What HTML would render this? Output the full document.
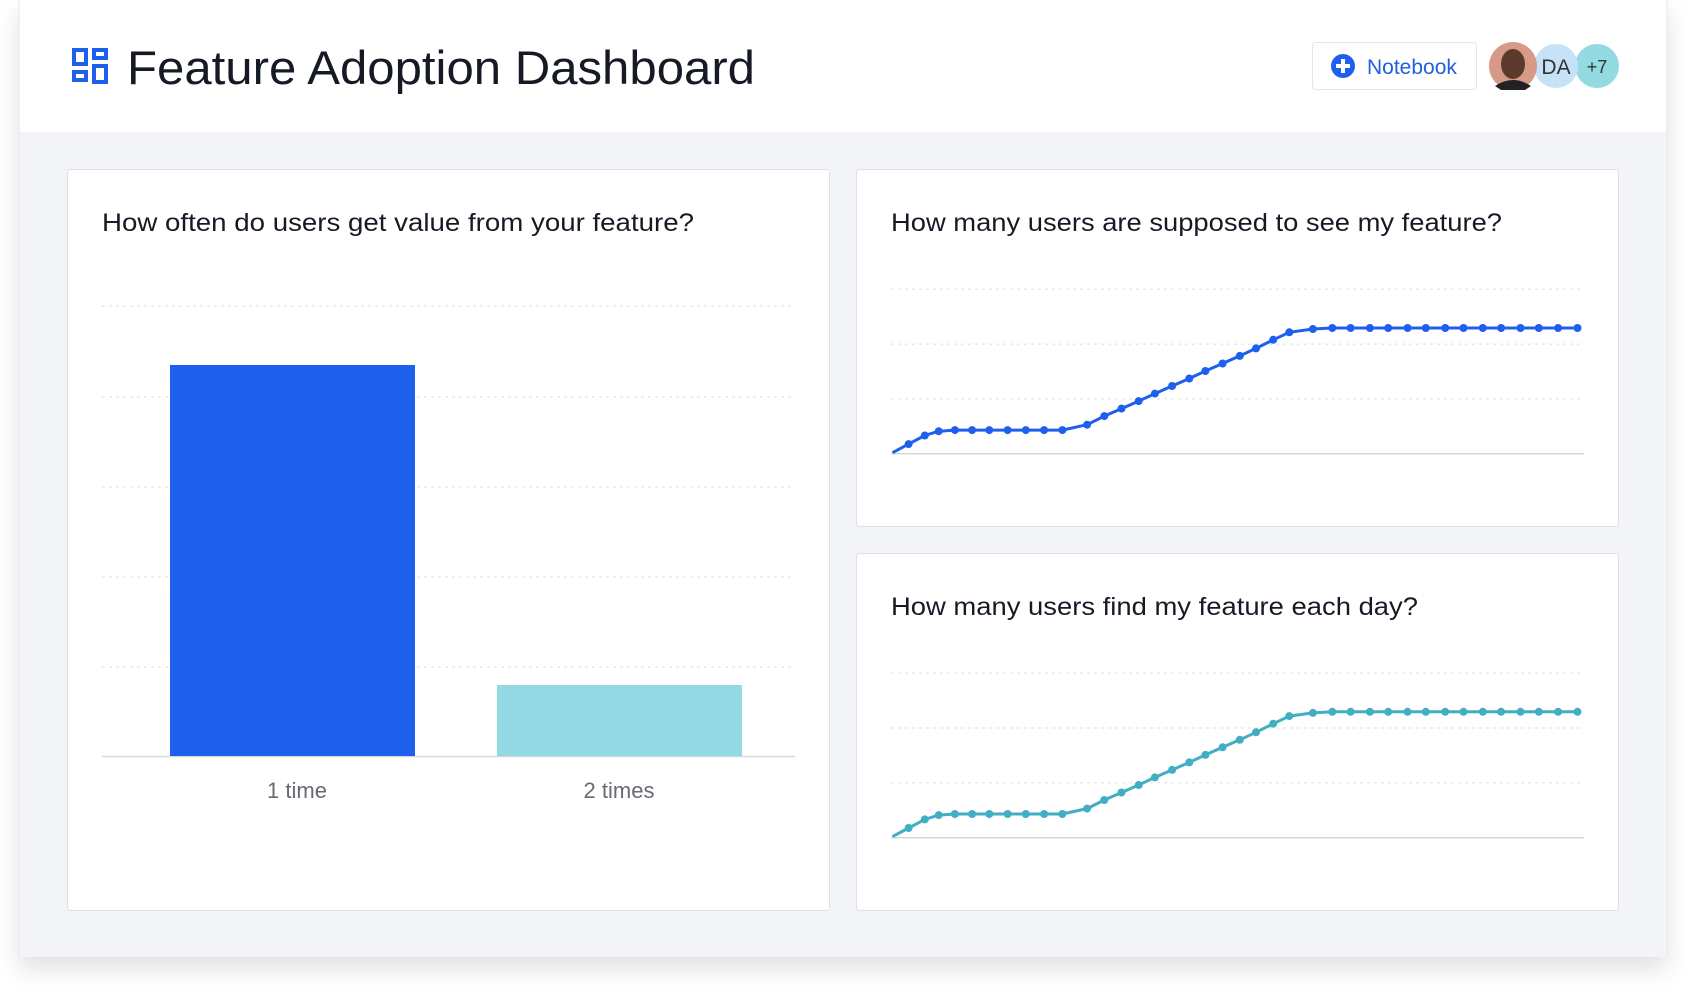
<!DOCTYPE html>
<html><head><meta charset="utf-8"><style>
html,body{margin:0;padding:0;background:#fff;width:1686px;height:996px;overflow:hidden}
svg{display:block}
text{font-family:"Liberation Sans",sans-serif}
</style></head><body>
<svg id="s" width="1686" height="996" viewBox="0 0 1686 996" xmlns="http://www.w3.org/2000/svg">
<defs>
<filter id="sh" x="-5%" y="-5%" width="110%" height="115%"><feDropShadow dx="0" dy="12" stdDeviation="12" flood-color="#000" flood-opacity="0.12"/></filter>
</defs>
<rect x="19" y="0" width="1648" height="957" fill="#f3f4f8" filter="url(#sh)"/>
<rect x="19" y="0" width="1648" height="132" fill="#fff"/>
<line x1="19" y1="0" x2="19" y2="957" stroke="#e6e7ea"/>
<line x1="1667" y1="0" x2="1667" y2="957" stroke="#e6e7ea"/>
<!-- icon -->
<g fill="none" stroke="#1f5fee" stroke-width="4">
<rect x="74" y="50" width="12" height="14"/><rect x="94" y="50" width="12" height="8"/>
<rect x="74" y="72" width="12" height="8"/><rect x="94" y="66" width="12" height="16"/>
</g>
<text x="127" y="84" font-size="47" fill="#151a24" textLength="628" lengthAdjust="spacingAndGlyphs">Feature Adoption Dashboard</text>
<!-- notebook -->
<rect x="1312.5" y="42.5" width="164" height="47" rx="3" fill="#fff" stroke="#e4e6ea"/>
<circle cx="1343" cy="66" r="12" fill="#1f5fee"/>
<rect x="1336" y="64" width="14" height="4" fill="#fff"/><rect x="1341" y="59" width="4" height="14" fill="#fff"/>
<text x="1367" y="74" font-size="21" fill="#1f5fe0">Notebook</text>
<circle cx="1597" cy="66" r="22" fill="#92dbe3"/>
<text x="1597" y="73" font-size="18" fill="#333" text-anchor="middle">+7</text>
<circle cx="1556" cy="66" r="22" fill="#c5e2f7"/>
<text x="1556" y="74" font-size="21" fill="#333" text-anchor="middle">DA</text>
<circle cx="1513" cy="66" r="24" fill="#d79a88"/>
<ellipse cx="1513" cy="64" rx="12" ry="15" fill="#5a3a2c"/>
<path d="M1495 86 Q1513 74 1531 86 L1525 90 L1501 90Z" fill="#222"/>
<!-- cards -->
<rect x="67.5" y="169.5" width="762" height="741" rx="3" fill="#fff" stroke="#dde0e6"/>
<rect x="856.5" y="169.5" width="762" height="357" rx="3" fill="#fff" stroke="#dde0e6"/>
<rect x="856.5" y="553.5" width="762" height="357" rx="3" fill="#fff" stroke="#dde0e6"/>
<text x="102" y="231" font-size="25" fill="#151a24" textLength="592" lengthAdjust="spacingAndGlyphs">How often do users get value from your feature?</text>
<text x="891" y="231" font-size="25" fill="#151a24" textLength="611" lengthAdjust="spacingAndGlyphs">How many users are supposed to see my feature?</text>
<text x="891" y="615" font-size="25" fill="#151a24" textLength="527" lengthAdjust="spacingAndGlyphs">How many users find my feature each day?</text>
<g stroke="#dadde3" stroke-dasharray="3 4" stroke-width="1">
<line x1="102" y1="306" x2="795" y2="306"/><line x1="102" y1="397" x2="795" y2="397"/>
<line x1="102" y1="487" x2="795" y2="487"/><line x1="102" y1="577" x2="795" y2="577"/>
<line x1="102" y1="667" x2="795" y2="667"/>
</g>
<line x1="102" y1="756.5" x2="795" y2="756.5" stroke="#d4d7dc" stroke-width="1.5"/>
<rect x="170" y="365" width="245" height="391" fill="#1f5fee"/>
<rect x="497" y="685" width="245" height="71" fill="#92d9e3"/>
<text x="297" y="798" font-size="22" fill="#666b73" text-anchor="middle">1 time</text>
<text x="619" y="798" font-size="22" fill="#666b73" text-anchor="middle">2 times</text>
<g id="charts"></g>
</svg>
<script>
var xs=[830,845,860,873,888,904,920,937,954,971,988,1011,1027,1043,1059,1074,1090,1106,1121,1137,1153,1168,1184,1199,1221,1239,1256,1274,1291,1309,1326,1344,1361,1379,1396,1414,1431,1449,1467];
var ys=[421,413,405,401,400,400,400,400,400,400,400,395,387,380,373,366,359,352,345,338,331,324,316,309,306];
while(ys.length<xs.length)ys.push(305);
var k=1.0753,g=document.getElementById('charts'),h='';
[[0,'#1f5fee'],[357,'#41aec4']].forEach(function(c){
 var off=c[0];
 [269,320,371].forEach(function(y){var yy=((y+off)*k).toFixed(1);h+='<line x1="891" y1="'+yy+'" x2="1584" y2="'+yy+'" stroke="#dadde3" stroke-dasharray="3 4"/>';});
 var yb=((422+off)*k).toFixed(1);
 h+='<line x1="891" y1="'+yb+'" x2="1584" y2="'+yb+'" stroke="#d4d7dc" stroke-width="1.5"/>';
 var p=xs.map(function(x,i){return (x*k).toFixed(1)+','+((ys[i]+off)*k).toFixed(1);});
 h+='<polyline points="'+p.join(' ')+'" fill="none" stroke="'+c[1]+'" stroke-width="3" stroke-linejoin="round"/>';
 xs.forEach(function(x,i){if(i>0)h+='<circle cx="'+(x*k).toFixed(1)+'" cy="'+((ys[i]+off)*k).toFixed(1)+'" r="4" fill="'+c[1]+'"/>';});
});
g.innerHTML=h;
</script>
</body></html>
